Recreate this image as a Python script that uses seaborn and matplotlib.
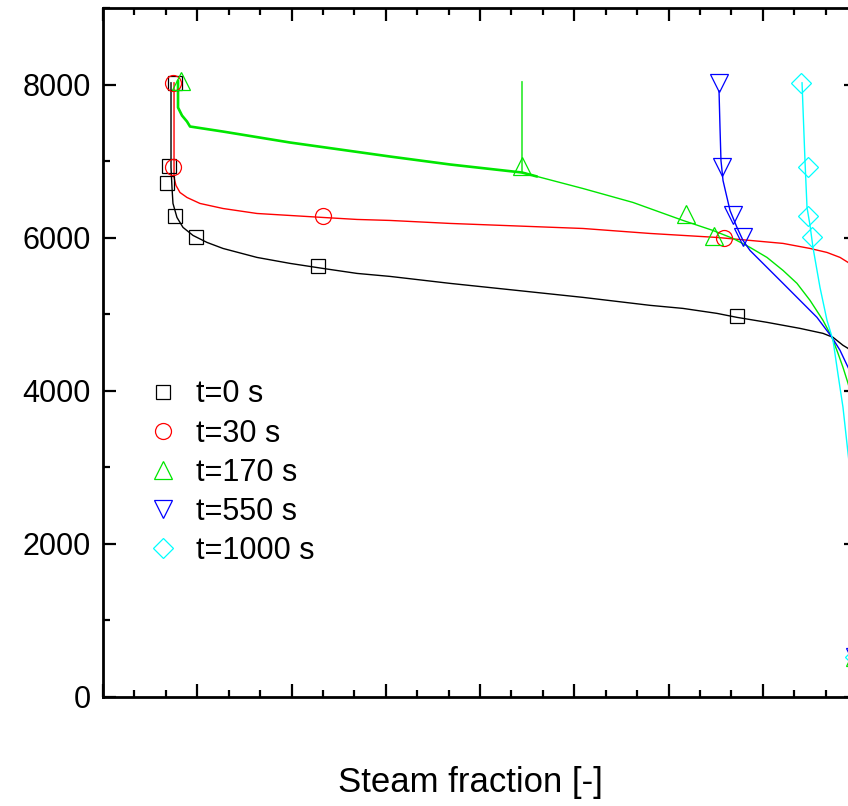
import matplotlib
matplotlib.use("Agg")
import matplotlib.pyplot as plt
from matplotlib.lines import Line2D
from matplotlib.ticker import MultipleLocator, NullFormatter
import seaborn as sns

# ---------------- data ----------------
labels = ["t=0 s", "t=30 s", "t=170 s", "t=550 s", "t=1000 s"]
colors = ["#000000", "#ff0000", "#00e600", "#0000ff", "#00ffff"]
markers = ["s", "o", "^", "v", "D"]

# marker points (steam fraction, y)
m0_x = [0.0955, 0.0875, 0.085, 0.0955, 0.123, 0.285, 0.841]
m0_y = [8026, 6930, 6708, 6277, 6003, 5625, 4972]
m30_x = [0.093, 0.093, 0.292, 0.824]
m30_y = [8026, 6917, 6277, 5990]
m170_x = [0.103, 0.556, 0.773, 0.810, 0.997]
m170_y = [8052, 6930, 6303, 6016, 522]
m550_x = [0.817, 0.821, 0.836, 0.849, 0.997]
m550_y = [8026, 6917, 6290, 6003, 522]
m1000_x = [0.926, 0.935, 0.935, 0.940, 0.997]
m1000_y = [8026, 6917, 6277, 6003, 522]

# curves
c0_x = [0.0902, 0.0902, 0.0915, 0.0928, 0.0981, 0.1061, 0.1194, 0.1379, 0.1592,
        0.2042, 0.2480, 0.2918, 0.3369, 0.3806, 0.4602, 0.5491, 0.6366, 0.7255,
        0.7692, 0.8143, 0.8408, 0.8806, 0.9244, 0.9549, 0.9682, 0.9814, 0.9881, 1.0]
c0_y = [8026, 6917, 6656, 6447, 6264, 6134, 6029, 5938, 5859,
        5742, 5664, 5598, 5533, 5494, 5403, 5311, 5220, 5116,
        5076, 5011, 4959, 4894, 4815, 4750, 4698, 4594, 4554, 4424]
c30_x = [0.0942, 0.0942, 0.0942, 0.0968, 0.1021, 0.1114, 0.1286, 0.1592, 0.2042,
         0.2480, 0.2918, 0.3369, 0.3806, 0.4602, 0.6366, 0.7255, 0.8143, 0.8581,
         0.9019, 0.9377, 0.9602, 0.9775, 0.9881, 1.0]
c30_y = [8026, 6917, 6786, 6682, 6590, 6525, 6447, 6381, 6316,
         6290, 6264, 6238, 6225, 6186, 6120, 6055, 6003, 5964,
         5925, 5859, 5807, 5742, 5677, 5572]
c170a_x = [0.0995, 0.0995, 0.0995, 0.1048, 0.1114, 0.1154, 0.1592, 0.2480,
           0.3806, 0.4602, 0.5557, 0.5756]
c170a_y = [8052, 7882, 7700, 7595, 7517, 7452, 7386, 7243,
           7060, 6956, 6851, 6799]
c170b_x = [0.5557, 0.5557, 0.6366, 0.7029, 0.7692, 0.8090, 0.8355, 0.8581,
           0.8806, 0.9019, 0.9204, 0.9377, 0.9549, 0.9668, 0.9748, 0.9814,
           0.9881, 1.0]
c170b_y = [8039, 6851, 6642, 6460, 6225, 6094, 5990, 5873,
           5742, 5572, 5403, 5181, 4920, 4698, 4489, 4307,
           4098, 3680]
c550_x = [0.8170, 0.8183, 0.8196, 0.8223, 0.8263, 0.8316, 0.8408, 0.8488,
          0.8581, 0.8806, 0.9019, 0.9244, 0.9469, 0.9668, 0.9775, 0.9881, 1.0]
c550_y = [7921, 7439, 7008, 6747, 6577, 6355, 6134, 5964,
          5833, 5612, 5403, 5181, 4959, 4698, 4528, 4307, 4072]
c1000_x = [0.9271, 0.9310, 0.9337, 0.9377, 0.9416, 0.9509, 0.9602, 0.9682,
           0.9748, 0.9814, 0.9881, 1.0]
c1000_y = [8026, 7008, 6395, 6160, 5873, 5351, 4920, 4659,
           4215, 3785, 3184, 2179]

y_ticks = [0, 2000, 4000, 6000, 8000]

# ---------------- figure ----------------
sns.set_style("ticks")
plt.rcParams["font.family"] = ["Liberation Sans", "DejaVu Sans"]
plt.rcParams["text.color"] = "black"
plt.rcParams["axes.labelcolor"] = "black"
plt.rcParams["xtick.color"] = "black"
plt.rcParams["ytick.color"] = "black"

fig = plt.figure(figsize=(8.48, 8.06), dpi=100)
ax = fig.add_axes([103 / 848, 109 / 806, 754 / 848, 689 / 806])

# curves
curves = [
    (c0_x, c0_y, colors[0], 1.0),
    (c30_x, c30_y, colors[1], 1.0),
    (c170a_x, c170a_y, colors[2], 1.9),
    (c170b_x, c170b_y, colors[2], 1.0),
    (c550_x, c550_y, colors[3], 1.0),
    (c1000_x, c1000_y, colors[4], 1.0),
]
for cx, cy, col, lw in curves:
    sns.lineplot(x=cx, y=cy, sort=False, estimator=None, color=col, lw=lw,
                 ax=ax, legend=False)

# markers
msizes = [10, 11.5, 13.5, 13.5, 9.8]
mpts = [(m0_x, m0_y), (m30_x, m30_y), (m170_x, m170_y),
        (m550_x, m550_y), (m1000_x, m1000_y)]
for (mx, my), col, mk, ms in zip(mpts, colors, markers, msizes):
    sns.lineplot(x=mx, y=my, sort=False, estimator=None, color=col,
                 linestyle="none", marker=mk, markersize=ms,
                 markerfacecolor="none", markeredgecolor=col,
                 markeredgewidth=0.9, ax=ax, legend=False)

ax.set_xlim(0, 1)
ax.set_ylim(0, 9000)
ax.xaxis.set_major_locator(MultipleLocator(0.125))
ax.xaxis.set_minor_locator(MultipleLocator(0.125 / 3))
ax.xaxis.set_major_formatter(NullFormatter())
ax.set_yticks(y_ticks)
ax.yaxis.set_minor_locator(MultipleLocator(1000))
ax.set_yticklabels([str(v) for v in y_ticks])

for s in ax.spines.values():
    s.set_linewidth(2.0)
    s.set_color("black")
ax.tick_params(which="both", direction="in", top=True, right=True,
               width=1.6, colors="black")
ax.tick_params(which="major", length=9.5, labelsize=22, pad=9)
ax.tick_params(which="minor", length=5)

ax.set_xlabel("Steam fraction [-]", fontsize=25, color="black")
ax.xaxis.set_label_coords(0.487, -0.100)

handles = [Line2D([], [], linestyle="none", marker=mk, markersize=ms,
                  markerfacecolor="none", markeredgecolor=col,
                  markeredgewidth=0.9)
           for col, mk, ms in zip(colors, markers, msizes)]
leg = ax.legend(handles, labels, loc="upper left",
                bbox_to_anchor=(0.059, 0.461), frameon=False, fontsize=22,
                borderpad=0, borderaxespad=0, handlelength=1.0,
                handletextpad=0.6, labelspacing=0.30)
for t in leg.get_texts():
    t.set_color("black")

fig.savefig("out.png", dpi=100)
